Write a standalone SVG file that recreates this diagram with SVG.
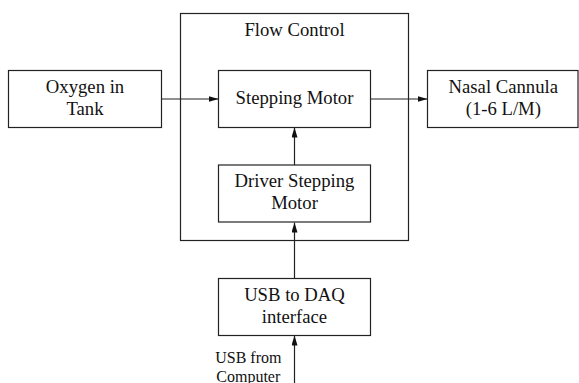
<svg xmlns="http://www.w3.org/2000/svg" width="579" height="383" viewBox="0 0 579 383">
<style>
.box{fill:#fff;stroke:#222;stroke-width:1.2}
.lbl{font-family:"Liberation Serif","Times New Roman",serif;font-size:18.7px;fill:#111;text-anchor:middle}
.sm{font-size:16px}
.con{stroke:#222;stroke-width:1.2;fill:none}
</style>
<defs>
<marker id="ah" viewBox="0 0 10 6" refX="10" refY="3" markerWidth="10" markerHeight="6" markerUnits="userSpaceOnUse" orient="auto">
<path d="M0,0 L10,3 L0,6 Z" fill="#111"/>
</marker>
</defs>
<g id="flow-control">
<rect class="box" x="180.5" y="13.5" width="228" height="227" fill="none"/>
<text class="lbl" x="294.5" y="35.5">Flow Control</text>
</g>
<g id="connectors">
<line class="con" x1="161.5" y1="99" x2="218.5" y2="99" marker-end="url(#ah)"/>
<line class="con" x1="370.5" y1="99" x2="427.5" y2="99" marker-end="url(#ah)"/>
<line class="con" x1="294.5" y1="165" x2="294.5" y2="127.5" marker-end="url(#ah)"/>
<line class="con" x1="294.5" y1="278" x2="294.5" y2="222.5" marker-end="url(#ah)"/>
<line class="con" x1="294.5" y1="383" x2="294.5" y2="335.5" marker-end="url(#ah)"/>
</g>
<g id="oxygen">
<rect class="box" x="8.5" y="70.5" width="153" height="57"/>
<text class="lbl" x="85" y="93.3">Oxygen in</text>
<text class="lbl" x="85" y="115">Tank</text>
</g>
<g id="stepping-motor">
<rect class="box" x="218.5" y="70.5" width="152" height="57"/>
<text class="lbl" x="294.5" y="104.3">Stepping Motor</text>
</g>
<g id="nasal-cannula">
<rect class="box" x="427.5" y="70.5" width="150.5" height="57"/>
<text class="lbl" x="503.3" y="93.3">Nasal Cannula</text>
<text class="lbl" x="503.3" y="115">(1-6 L/M)</text>
</g>
<g id="driver">
<rect class="box" x="218.5" y="165" width="152" height="57"/>
<text class="lbl" x="294.5" y="187.3">Driver Stepping</text>
<text class="lbl" x="294.5" y="209.3">Motor</text>
</g>
<g id="usb-daq">
<rect class="box" x="218.5" y="278.5" width="152" height="57"/>
<text class="lbl" x="294.5" y="301">USB to DAQ</text>
<text class="lbl" x="294.5" y="323.3">interface</text>
</g>
<g id="usb-from">
<text class="lbl sm" x="248.3" y="363.3">USB from</text>
<text class="lbl sm" x="248.3" y="381.5">Computer</text>
</g>
</svg>
